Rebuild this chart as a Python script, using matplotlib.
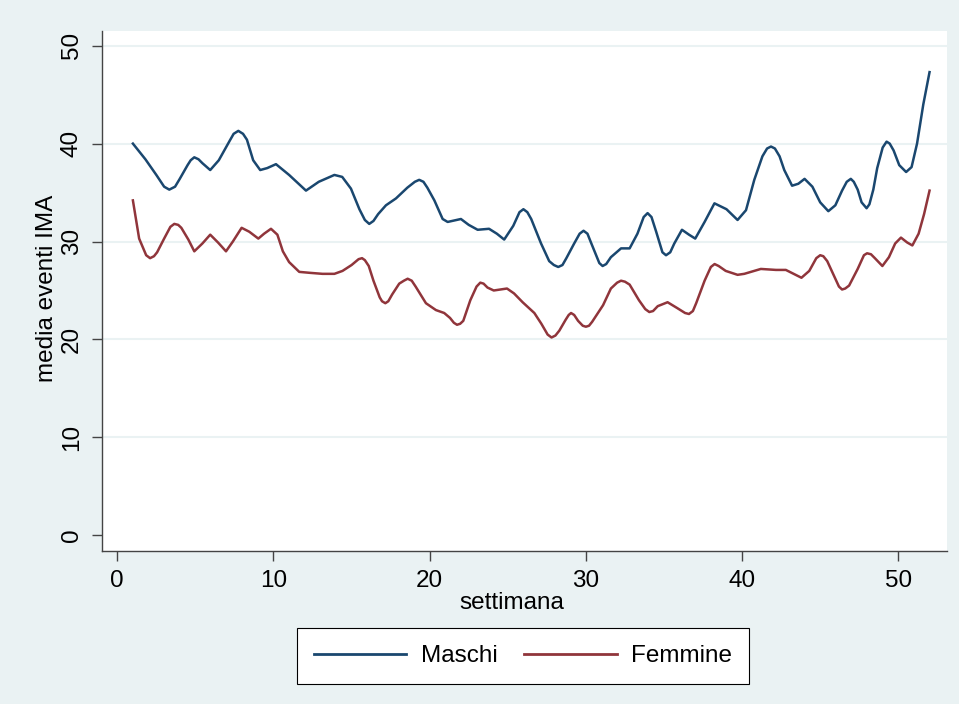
import matplotlib
matplotlib.use("Agg")
import matplotlib.pyplot as plt

# ----------------------------
# Data
# ----------------------------
maschi_week = [1.0, 1.8, 2.5, 3.0, 3.33, 3.7, 4.0, 4.5, 4.7, 4.93,
               5.2, 5.45, 5.95, 6.5, 7.2, 7.45, 7.75, 8.05, 8.3, 8.7,
               9.15, 9.6, 10.16, 11.0, 12.08, 12.9, 13.9, 14.4, 14.96, 15.5,
               15.85, 16.13, 16.4, 16.7, 17.2, 17.84, 18.57, 19.05, 19.33, 19.6,
               19.85, 20.3, 20.83, 21.15, 22.0, 22.5, 23.07, 23.8, 24.3, 24.77,
               25.35, 25.75, 26.0, 26.25, 26.5, 27.13, 27.65, 27.95, 28.23, 28.5,
               28.75, 29.25, 29.6, 29.85, 30.1, 30.35, 30.86, 31.07, 31.3, 31.6,
               32.25, 32.8, 33.3, 33.7, 33.95, 34.2, 34.5, 34.9, 35.13, 35.4,
               35.66, 36.15, 36.6, 37.0, 37.6, 38.23, 39.0, 39.71, 40.25, 40.78,
               41.3, 41.6, 41.85, 42.1, 42.4, 42.7, 43.2, 43.6, 44.0, 44.5,
               45.0, 45.52, 45.97, 46.4, 46.7, 46.96, 47.15, 47.4, 47.65, 47.97,
               48.15, 48.4, 48.65, 49.0, 49.25, 49.45, 49.7, 50.06, 50.5, 50.85,
               51.2, 51.6, 52.0]
maschi_val = [40.0, 38.4, 36.8, 35.6, 35.3, 35.6, 36.4, 37.8, 38.3, 38.6,
              38.4, 38.0, 37.3, 38.3, 40.3, 41.0, 41.3, 41.0, 40.4, 38.3,
              37.3, 37.5, 37.9, 36.8, 35.2, 36.1, 36.8, 36.6, 35.4, 33.3,
              32.2, 31.8, 32.1, 32.8, 33.7, 34.4, 35.5, 36.1, 36.3, 36.1,
              35.5, 34.2, 32.3, 32.0, 32.3, 31.7, 31.2, 31.3, 30.8, 30.2,
              31.6, 33.0, 33.3, 33.0, 32.3, 29.8, 28.0, 27.6, 27.4, 27.6,
              28.3, 29.8, 30.8, 31.1, 30.8, 29.8, 27.8, 27.5, 27.7, 28.4,
              29.3, 29.3, 30.8, 32.5, 32.9, 32.5, 31.0, 28.9, 28.6, 28.9,
              29.8, 31.2, 30.7, 30.3, 32.0, 33.9, 33.3, 32.2, 33.2, 36.3,
              38.7, 39.5, 39.7, 39.5, 38.7, 37.3, 35.7, 35.9, 36.4, 35.6,
              34.0, 33.1, 33.7, 35.2, 36.1, 36.4, 36.1, 35.3, 34.0, 33.4,
              33.8, 35.3, 37.5, 39.6, 40.2, 40.0, 39.3, 37.8, 37.1, 37.6,
              40.0, 44.0, 47.3]

femmine_week = [1.0, 1.4, 1.85, 2.1, 2.35, 2.55, 3.0, 3.4, 3.65, 3.9,
                4.1, 4.55, 4.93, 5.45, 5.95, 6.45, 6.96, 7.4, 7.96, 8.45,
                9.03, 9.4, 9.84, 10.25, 10.6, 11.0, 11.65, 12.35, 13.14, 13.9,
                14.42, 15.0, 15.45, 15.67, 15.85, 16.1, 16.4, 16.8, 16.95, 17.16,
                17.35, 17.6, 18.05, 18.35, 18.59, 18.85, 19.1, 19.76, 20.4, 20.93,
                21.3, 21.55, 21.75, 21.95, 22.15, 22.6, 23.0, 23.24, 23.45, 23.7,
                24.1, 24.95, 25.4, 25.95, 26.7, 27.15, 27.55, 27.8, 28.05, 28.3,
                28.7, 28.9, 29.05, 29.25, 29.5, 29.8, 30.0, 30.2, 30.4, 30.85,
                31.1, 31.6, 32.0, 32.25, 32.5, 32.8, 33.4, 33.8, 34.06, 34.3,
                34.6, 35.23, 35.85, 36.35, 36.6, 36.85, 37.06, 37.6, 38.0, 38.24,
                38.5, 38.95, 39.71, 40.14, 41.2, 42.17, 42.8, 43.3, 43.8, 44.3,
                44.75, 45.0, 45.2, 45.45, 45.97, 46.2, 46.4, 46.6, 46.85, 47.4,
                47.8, 48.0, 48.25, 48.5, 48.98, 49.4, 49.8, 50.17, 50.57, 50.9,
                51.3, 51.65, 52.0]
femmine_val = [34.2, 30.3, 28.6, 28.3, 28.5, 28.9, 30.3, 31.5, 31.8, 31.7,
               31.4, 30.2, 29.0, 29.8, 30.7, 29.9, 29.0, 30.0, 31.4, 31.0,
               30.3, 30.8, 31.3, 30.7, 29.0, 27.9, 26.9, 26.8, 26.7, 26.7,
               27.0, 27.6, 28.2, 28.3, 28.1, 27.5, 26.0, 24.3, 23.9, 23.7,
               23.9, 24.6, 25.7, 26.0, 26.2, 26.0, 25.4, 23.7, 23.0, 22.7,
               22.2, 21.7, 21.5, 21.6, 21.9, 24.0, 25.4, 25.8, 25.7, 25.3,
               25.0, 25.2, 24.7, 23.8, 22.7, 21.6, 20.5, 20.2, 20.4, 20.9,
               22.0, 22.5, 22.7, 22.5, 21.9, 21.4, 21.3, 21.4, 21.8, 22.9,
               23.5, 25.2, 25.8, 26.0, 25.9, 25.6, 24.0, 23.1, 22.8, 22.9,
               23.4, 23.8, 23.2, 22.7, 22.6, 22.9, 23.7, 26.0, 27.4, 27.7,
               27.5, 27.0, 26.6, 26.7, 27.2, 27.1, 27.1, 26.7, 26.3, 27.0,
               28.3, 28.6, 28.5, 28.0, 26.2, 25.4, 25.1, 25.2, 25.5, 27.2,
               28.6, 28.8, 28.7, 28.3, 27.5, 28.4, 29.8, 30.4, 29.9, 29.6,
               30.8, 32.8, 35.2]

x_ticks = [0, 10, 20, 30, 40, 50]
y_ticks = [0, 10, 20, 30, 40, 50]

# ----------------------------
# Style
# ----------------------------
BG = "#EAF2F3"
NAVY = "#1A476F"
MAROON = "#90353B"
plt.rcParams['font.family'] = ['Liberation Sans', 'DejaVu Sans']
FS = 17.5

fig = plt.figure(figsize=(9.59, 7.04), dpi=100, facecolor=BG)
ax = fig.add_axes([0.1060, 0.2178, 0.8812, 0.7386])
ax.set_facecolor("white")

ax.plot(maschi_week, maschi_val, color=NAVY, lw=1.8, label="Maschi",
        solid_joinstyle="round")
ax.plot(femmine_week, femmine_val, color=MAROON, lw=1.8, label="Femmine",
        solid_joinstyle="round")

ax.set_xlim(-1.0, 53.1)
ax.set_ylim(-1.57, 51.53)

ax.set_xticks(x_ticks)
ax.set_yticks(y_ticks)
for t in y_ticks[1:]:
    ax.axhline(t, color=BG, lw=1.5, zorder=0)

for side in ["top", "right"]:
    ax.spines[side].set_visible(False)
for side in ["left", "bottom"]:
    ax.spines[side].set_color("#444444")
    ax.spines[side].set_linewidth(1.0)

ax.tick_params(axis="both", direction="out", length=7.2, width=1.0,
               color="#444444", labelsize=FS)
ax.tick_params(axis="x", pad=7)
ax.tick_params(axis="y", pad=6.5)
for lab in ax.get_yticklabels():
    lab.set_rotation(90)
    lab.set_va("center")

fig.text(512 / 959, 1 - 603 / 704, "settimana", ha="center", va="center",
         fontsize=FS)
fig.text(47 / 959, 1 - 288 / 704, "media eventi IMA", ha="center",
         va="center", rotation=90, fontsize=FS)

leg = fig.legend(loc="center", bbox_to_anchor=(523 / 959, 1 - 656 / 704),
                 ncol=2, fontsize=FS, frameon=True, fancybox=False,
                 framealpha=1, handlelength=3.8, handletextpad=0.6,
                 columnspacing=1.1, borderpad=0.7)
leg.get_frame().set_edgecolor("black")
leg.get_frame().set_facecolor("white")
leg.get_frame().set_linewidth(0.8)
for line in leg.get_lines():
    line.set_linewidth(2.0)

fig.savefig("out.png", dpi=100, facecolor=BG)
